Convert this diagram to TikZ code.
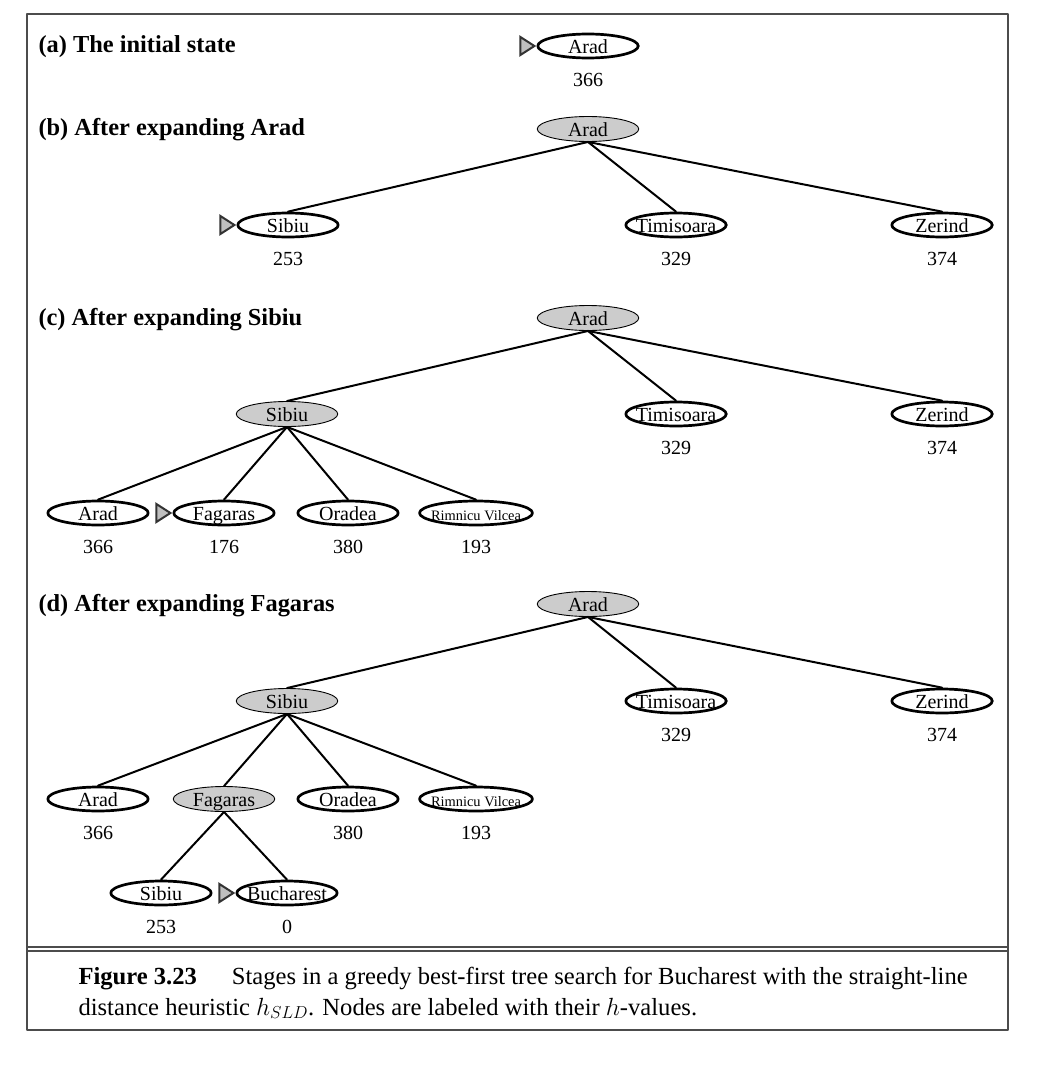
\documentclass[tikz,border=0pt]{standalone}
\usepackage{fontspec}
\setmainfont{Liberation Serif}
\usetikzlibrary{shapes.geometric,positioning}
\newcommand{\DoneColor}{black!20}
\newcommand{\NextMark}[1]{\draw[nextmark] ([shift={(-16,-9)}]#1.west) -- ([shift={(-2,0)}]#1.west) -- ([shift={(-16,9)}]#1.west) -- cycle;}
\tikzset{
  city/.style={ellipse,draw,line width=2.7pt,fill=white,inner xsep=-5pt,inner ysep=0pt,
    text height=15pt,text depth=1pt,minimum width=100.5pt,minimum height=24pt,
    font=\fontsize{20}{24}\selectfont},
  done/.style={city,line width=0.9pt,fill=\DoneColor,minimum width=101.5pt,minimum height=25pt},
  tiny/.style={font=\fontsize{14.4}{16}\selectfont},
  hval/.style={font=\fontsize{20}{24}\selectfont,text height=14pt,text depth=0pt},
  stage/.style={anchor=base west,font=\fontsize{24.4}{29}\selectfont\bfseries},
  tree/.style={line width=2pt},
  nextmark/.style={fill=black!25,draw=black!80,line width=2pt,line join=miter},
  frame/.style={draw=black!70,line width=1.2pt}
}
\begin{document}
\begin{tikzpicture}[x=1pt,y=-1pt,line cap=round,line join=round]
  \useasboundingbox (0,0) rectangle (1046,1068);
  \draw[frame] (27,14) rectangle (1008,1030);
  \draw[frame] (27,947) -- (1008,947);
  \draw[frame] (27,951) -- (1008,951);
  % stage headings
  \node[stage] (sa) at (35,52) {(a) The initial state};
  \node[stage] (sb) at (35,135) {(b) After expanding Arad};
  \node[stage] (sc) at (35,325) {(c) After expanding Sibiu};
  \node[stage] (sd) at (35,611) {(d) After expanding Fagaras};
  % (a)
  \node[city] (a0) at (588,46) {Arad};
  \node[hval,below=10pt of a0] (a0h) {366};
  \NextMark{a0}
  % (b)
  \node[done] (b0) at (588,129) {Arad};
  \node[city] (b1) at (288,225) {Sibiu};
  \node[city] (b2) at (676,225) {Timisoara};
  \node[city] (b3) at (942,225) {Zerind};
  \foreach \c in {b1,b2,b3}
  \draw[tree] (b0.south) -- (\c.north);
  \node[hval,below=10pt of b1] (b1h) {253};
  \node[hval,below=10pt of b2] (b2h) {329};
  \node[hval,below=10pt of b3] (b3h) {374};
  \NextMark{b1}
  % (c)
  \node[done] (c0) at (588,318) {Arad};
  \node[done] (c1) at (287,414) {Sibiu};
  \node[city] (c2) at (676,414) {Timisoara};
  \node[city] (c3) at (942,414) {Zerind};
  \node[city] (c4) at (98,513) {Arad};
  \node[city] (c5) at (224,513) {Fagaras};
  \node[city] (c6) at (348,513) {Oradea};
  \node[city,tiny] (c7) at (476,513) {Rimnicu Vilcea};
  \foreach \c in {c1,c2,c3}
  \draw[tree] (c0.south) -- (\c.north);
  \foreach \c in {c4,c5,c6,c7}
  \draw[tree] (c1.south) -- (\c.north);
  \node[hval,below=10pt of c2] (c2h) {329};
  \node[hval,below=10pt of c3] (c3h) {374};
  \node[hval,below=10pt of c4] (c4h) {366};
  \node[hval,below=10pt of c5] (c5h) {176};
  \node[hval,below=10pt of c6] (c6h) {380};
  \node[hval,below=10pt of c7] (c7h) {193};
  \NextMark{c5}
  % (d)
  \node[done] (d0) at (588,604) {Arad};
  \node[done] (d1) at (287,701) {Sibiu};
  \node[city] (d2) at (676,701) {Timisoara};
  \node[city] (d3) at (942,701) {Zerind};
  \node[city] (d4) at (98,799) {Arad};
  \node[done] (d5) at (224,799) {Fagaras};
  \node[city] (d6) at (348,799) {Oradea};
  \node[city,tiny] (d7) at (476,799) {Rimnicu Vilcea};
  \node[city] (d8) at (161,893) {Sibiu};
  \node[city] (d9) at (287,893) {Bucharest};
  \foreach \c in {d1,d2,d3}
  \draw[tree] (d0.south) -- (\c.north);
  \foreach \c in {d4,d5,d6,d7}
  \draw[tree] (d1.south) -- (\c.north);
  \foreach \c in {d8,d9}
  \draw[tree] (d5.south) -- (\c.north);
  \node[hval,below=10pt of d2] (d2h) {329};
  \node[hval,below=10pt of d3] (d3h) {374};
  \node[hval,below=10pt of d4] (d4h) {366};
  \node[hval,below=10pt of d6] (d6h) {380};
  \node[hval,below=10pt of d7] (d7h) {193};
  \node[hval,below=10pt of d8] (d8h) {253};
  \node[hval,below=10pt of d9] (d9h) {0};
  \NextMark{d9}
  % caption
  \node[anchor=base west,font=\fontsize{24.6}{30}\selectfont] (cap1) at (75,984)
    {\textbf{Figure 3.23}\hspace{35pt}Stages in a greedy best-first tree search for Bucharest with the straight-line};
  \node[anchor=base west,font=\fontsize{24.6}{30}\selectfont] (cap2) at (75,1015)
    {distance heuristic $h_{SLD}$. Nodes are labeled with their $h$-values.};
\end{tikzpicture}
\end{document}
